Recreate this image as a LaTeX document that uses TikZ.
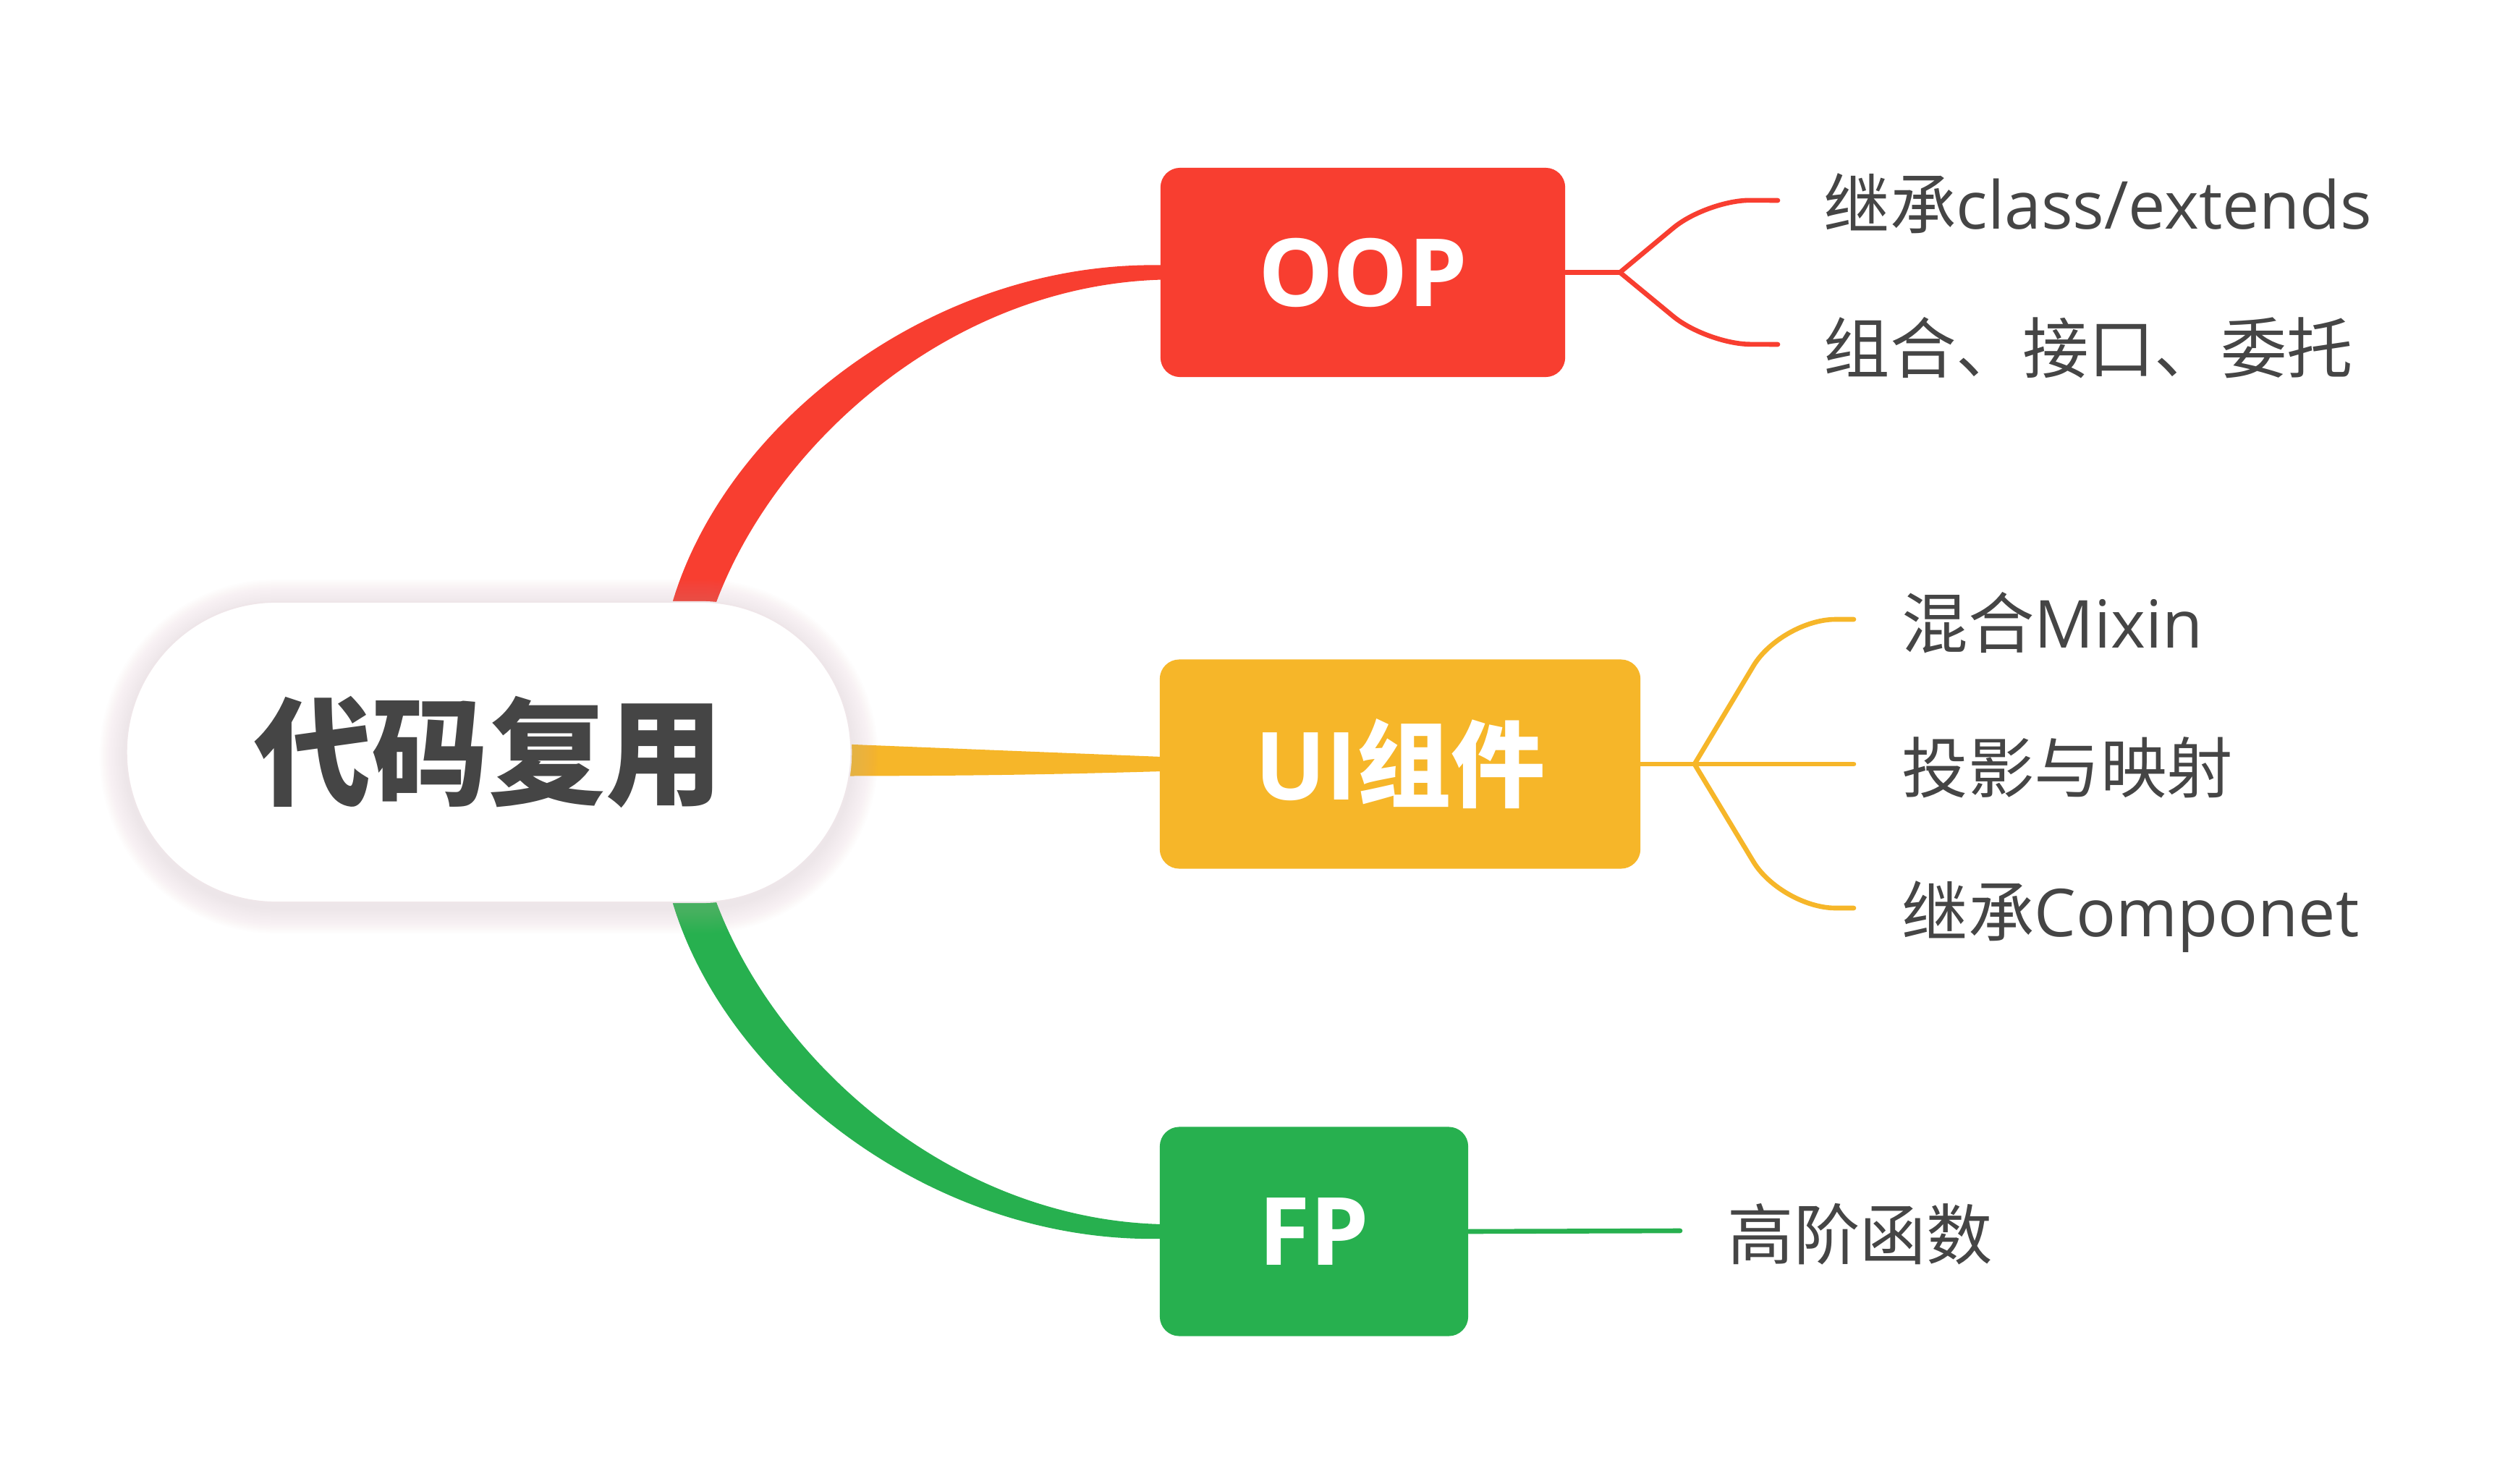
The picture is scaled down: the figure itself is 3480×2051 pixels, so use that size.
\documentclass[tikz,border=0pt]{standalone}
\usepackage{fontspec}
\setmainfont{Open Sans}
\newfontfamily\cjk{Noto Sans CJK SC}
\usetikzlibrary{calc}
\pgfdeclarelayer{bg}
\pgfdeclarelayer{shadow}
\pgfsetlayers{bg,shadow,main}
\definecolor{cred}{HTML}{F83E30}
\definecolor{cyel}{HTML}{F6B629}
\definecolor{cgrn}{HTML}{27B04F}
\definecolor{ctxt}{HTML}{454545}
\definecolor{cshadow}{HTML}{C4B2B8}
\definecolor{cborder}{HTML}{EFE6E9}
\begin{document}
\begin{tikzpicture}[x=0.01cm,y=-0.01cm,
  rootbox/.style={rounded corners=2.07cm, minimum width=10.01cm, minimum height=4.15cm,
    inner sep=0pt, fill=white, draw=cborder, line width=0.02cm, text=ctxt,
    font=\cjk\bfseries\fontsize{46pt}{50pt}\selectfont},
  topicbox/.style={rounded corners=0.27cm, minimum height=2.89cm, inner sep=0pt,
    text=white, font=\bfseries\fontsize{37pt}{40pt}\selectfont},
  leaf/.style={anchor=base west, inner sep=0pt, text=ctxt,
    font=\fontsize{26pt}{30pt}\selectfont},
  twig/.style={line width=0.066cm, line cap=round, line join=round}]
\useasboundingbox (0,0) rectangle (3480,2051);
\begin{pgfonlayer}{bg}
\fill[white] (0,0) rectangle (3480,2051);
\end{pgfonlayer}

% nodes
\node[rootbox] (root) at (675.5,1039.5) {代码复用};
\node[topicbox, fill=cred, minimum width=5.59cm] (oop) at (1883.5,376.5) {OOP};
\node[topicbox, fill=cyel, minimum width=6.64cm] (ui) at (1935,1056) {UI{\cjk\bfseries 组件}};
\node[topicbox, fill=cgrn, minimum width=4.26cm] (fp) at (1816,1702) {FP};

\node[leaf] (c1) at (2520,316) {{\cjk 继承}class/extends};
\node[leaf] (c2) at (2520,515) {\cjk 组合、接口、委托};
\node[leaf] (u1) at (2628,895) {{\cjk 混合}Mixin};
\node[leaf] (u2) at (2628,1095) {\cjk 投影与映射};
\node[leaf] (u3) at (2628,1294) {{\cjk 继承}Componet};
\node[leaf] (f1) at (2387,1740) {\cjk 高阶函数};

% shadow of the root
\begin{pgfonlayer}{shadow}
\foreach \r in {2,4,...,36} {
  \pgfmathsetmacro\rc{(207+\r)*0.01}
  \fill[cshadow, fill opacity=0.015, rounded corners=\rc cm]
    ($(root.north west)+(-\r,-\r+6)$) rectangle ($(root.south east)+(\r,\r+6)$);
}
\end{pgfonlayer}

\begin{pgfonlayer}{bg}
% thick tapered main branches
\fill[cred] ($(root.north)+(252,8)$) .. controls (998,588) and (1288,360) ..
  ($(oop.west)+(4,-10)$) -- ($(oop.west)+(4,10)$)
  .. controls (1312,394) and (1068,616) .. ($(root.north)+(312,8)$) -- cycle;
\fill[cgrn] ($(root.south)+(252,-8)$) .. controls (998,1491) and (1288,1719) ..
  ($(fp.west)+(4,10)$) -- ($(fp.west)+(4,-10)$)
  .. controls (1312,1685) and (1068,1463) .. ($(root.south)+(312,-8)$) -- cycle;
\fill[cyel] ($(root.east)+(-60,-13)$) -- ($(ui.west)+(4,-10)$) -- ($(ui.west)+(4,10)$)
  .. controls (1400,1072) and (1300,1072) .. ($(root.east)+(0,33)$)
  -- ($(root.east)+(-60,33)$) -- cycle;

% thin sub-branches
\coordinate (ob) at ($(oop.east)+(75,0)$);
\coordinate (oe1) at ($(c1.base west)+(-63,-39)$);
\coordinate (oe2) at ($(c2.base west)+(-63,-39)$);
\draw[twig, cred] (oop.east) -- (ob);
\draw[twig, cred, rounded corners=0.6cm] (ob) -- ++(120,-100) -- (oe1);
\draw[twig, cred, rounded corners=0.6cm] (ob) -- ++(120,99) -- (oe2);

\coordinate (ub) at ($(ui.east)+(74,0)$);
\coordinate (ue1) at ($(u1.base west)+(-66,-39)$);
\coordinate (ue2) at ($(u2.base west)+(-66,-39)$);
\coordinate (ue3) at ($(u3.base west)+(-66,-39)$);
\draw[twig, cyel] (ui.east) -- (ub);
\draw[twig, cyel, rounded corners=0.75cm] (ub) -- ++(120,-200) -- (ue1);
\draw[twig, cyel] (ub) -- (ue2);
\draw[twig, cyel, rounded corners=0.75cm] (ub) -- ++(120,199) -- (ue3);

\coordinate (fe1) at ($(f1.base west)+(-65,-39)$);
\draw[twig, cgrn] (fp.east) -- (fe1);
\end{pgfonlayer}
\end{tikzpicture}
\end{document}
